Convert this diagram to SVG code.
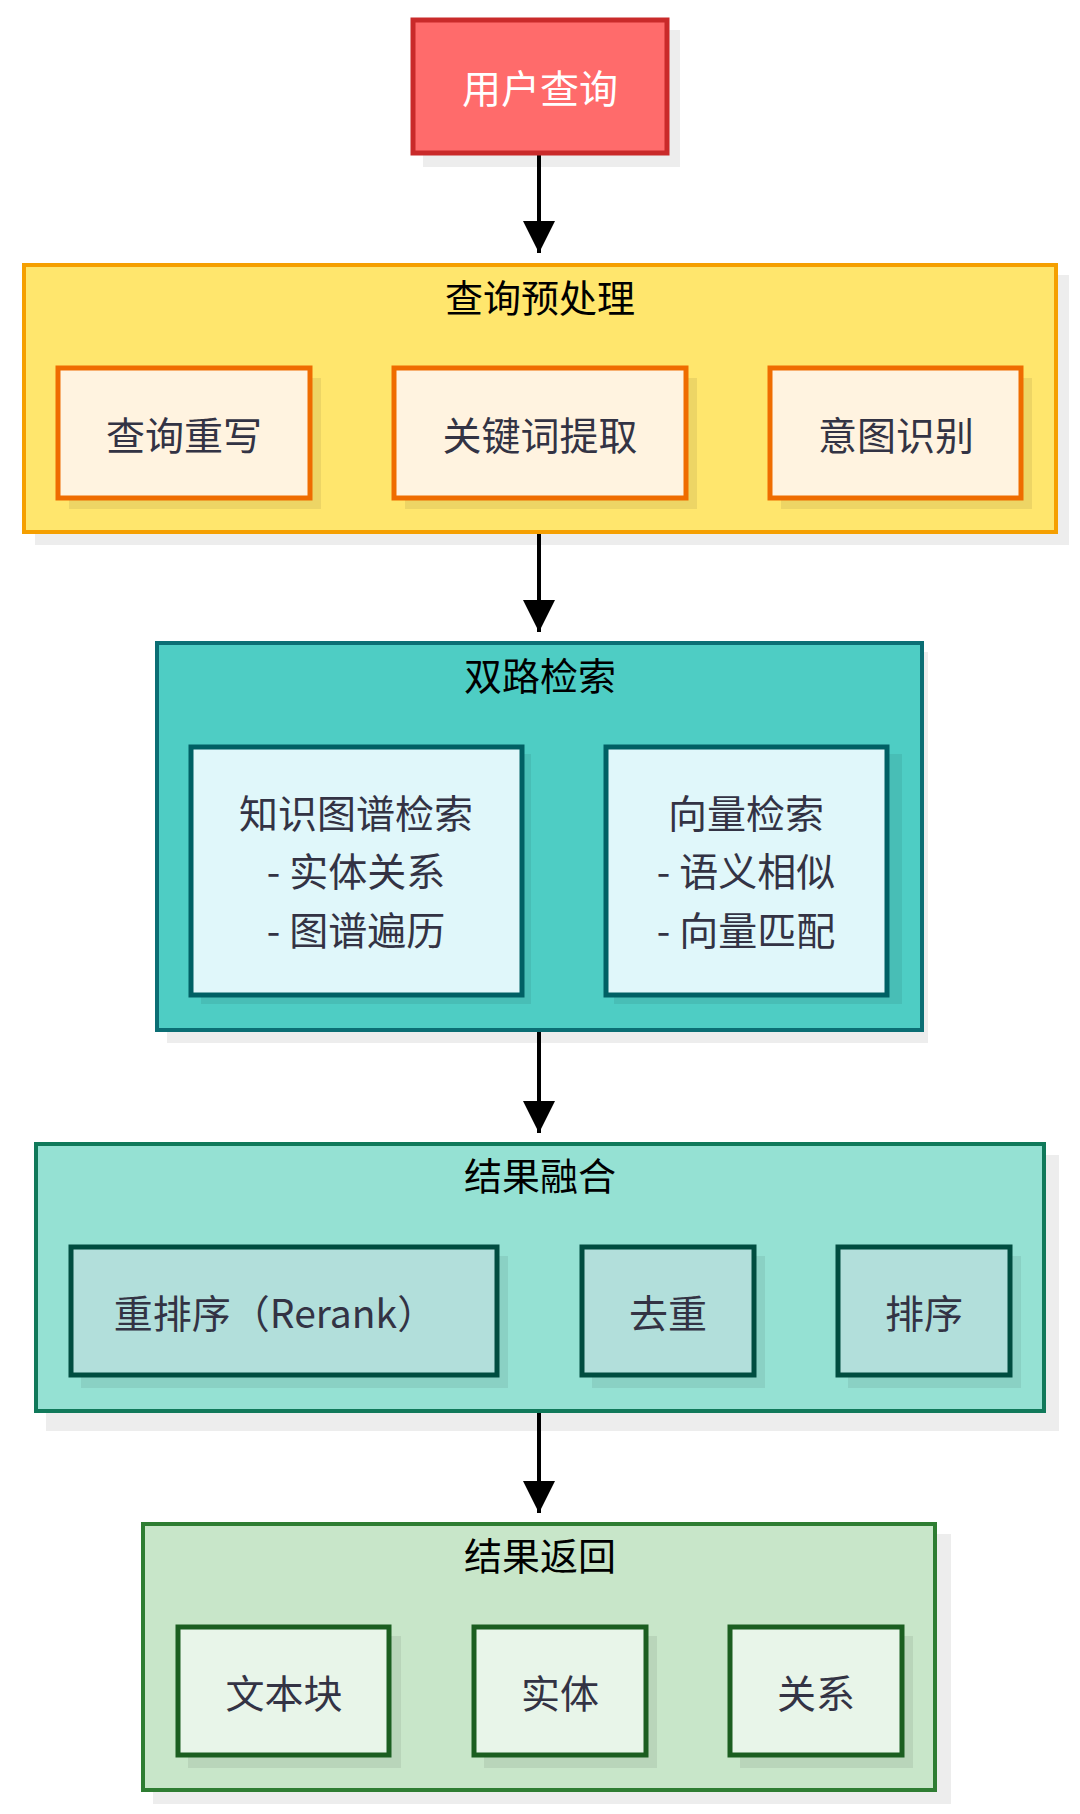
<svg xmlns="http://www.w3.org/2000/svg" width="1080" height="1814" viewBox="0 0 1080 1814">
<defs>
<marker id="ah" viewBox="0 0 10 10" refX="10" refY="5" markerWidth="8" markerHeight="8" markerUnits="strokeWidth" orient="auto"><path d="M0,0 L10,5 L0,10 z" fill="#000"/></marker>
<style>
text{font-family:"Noto Sans CJK SC","Noto Sans",sans-serif;text-anchor:middle;dominant-baseline:central}
.sh{fill:#000;opacity:0.07}
.t{font-size:38px;fill:#000}
.n{font-size:39px;fill:#333344}
.e{stroke:#000;stroke-width:4;fill:none;marker-end:url(#ah)}
</style>
</defs>
<rect width="1080" height="1814" fill="#fff"/>
<g id="connectors">
<line class="e" x1="539" y1="155" x2="539" y2="253"/>
<line class="e" x1="539" y1="533" x2="539" y2="632"/>
<line class="e" x1="539" y1="1031" x2="539" y2="1133"/>
<line class="e" x1="539" y1="1411" x2="539" y2="1513"/>
</g>
<g id="user">
<rect class="sh" x="423" y="30" width="257" height="137"/>
<rect x="413" y="20" width="254" height="133" fill="#ff6b6b" stroke="#c92a2a" stroke-width="5"/>
<text x="540" y="86" font-size="39" fill="#fff">用户查询</text>
</g>
<g id="pre">
<rect class="sh" x="35" y="275" width="1034" height="270"/>
<rect x="24" y="265" width="1032" height="267" fill="#ffe66d" stroke="#f59f00" stroke-width="4"/>
<text class="t" x="540" y="295">查询预处理</text>
<g id="rewrite"><rect class="sh" x="69" y="378" width="252" height="131"/><rect x="58" y="368" width="252" height="130" fill="#fff3e0" stroke="#ef6c00" stroke-width="5"/><text class="n" x="184" y="433">查询重写</text></g>
<g id="kw"><rect class="sh" x="405" y="378" width="292" height="131"/><rect x="394" y="368" width="292" height="130" fill="#fff3e0" stroke="#ef6c00" stroke-width="5"/><text class="n" x="540" y="433">关键词提取</text></g>
<g id="intent"><rect class="sh" x="781" y="378" width="251" height="131"/><rect x="770" y="368" width="251" height="130" fill="#fff3e0" stroke="#ef6c00" stroke-width="5"/><text class="n" x="896" y="433">意图识别</text></g>
</g>
<g id="retrieve">
<rect class="sh" x="167" y="652" width="761" height="391"/>
<rect x="157" y="643" width="765" height="387" fill="#4ecdc4" stroke="#0b6e74" stroke-width="4"/>
<text class="t" x="540" y="673">双路检索</text>
<g id="kg"><rect class="sh" x="201" y="754" width="330" height="250"/><rect x="191" y="747" width="331" height="248" fill="#e0f7fa" stroke="#006064" stroke-width="5"/>
<text class="n" x="356" y="811">知识图谱检索</text><text class="n" x="356" y="869">- 实体关系</text><text class="n" x="356" y="928">- 图谱遍历</text></g>
<g id="vec"><rect class="sh" x="614" y="754" width="288" height="250"/><rect x="606" y="747" width="281" height="248" fill="#e0f7fa" stroke="#006064" stroke-width="5"/>
<text class="n" x="746" y="811">向量检索</text><text class="n" x="746" y="869">- 语义相似</text><text class="n" x="746" y="928">- 向量匹配</text></g>
</g>
<g id="fuse">
<rect class="sh" x="46" y="1155" width="1013" height="276"/>
<rect x="36" y="1144" width="1008" height="267" fill="#95e1d3" stroke="#10795a" stroke-width="4"/>
<text class="t" x="540" y="1173">结果融合</text>
<g id="rerank"><rect class="sh" x="81" y="1256" width="427" height="132"/><rect x="71" y="1247" width="426" height="128" fill="#b2dfdb" stroke="#004d40" stroke-width="5"/><text class="n" x="275" y="1311">重排序（Rerank）</text></g>
<g id="dedup"><rect class="sh" x="592" y="1256" width="173" height="132"/><rect x="582" y="1247" width="172" height="128" fill="#b2dfdb" stroke="#004d40" stroke-width="5"/><text class="n" x="668" y="1311">去重</text></g>
<g id="sort"><rect class="sh" x="848" y="1256" width="173" height="132"/><rect x="838" y="1247" width="172" height="128" fill="#b2dfdb" stroke="#004d40" stroke-width="5"/><text class="n" x="924" y="1311">排序</text></g>
</g>
<g id="ret">
<rect class="sh" x="153" y="1534" width="798" height="270"/>
<rect x="143" y="1524" width="792" height="266" fill="#c8e6c9" stroke="#2e7d32" stroke-width="4"/>
<text class="t" x="540" y="1553">结果返回</text>
<g id="chunk"><rect class="sh" x="188" y="1636" width="213" height="132"/><rect x="178" y="1627" width="211" height="128" fill="#e8f5e9" stroke="#1b5e20" stroke-width="5"/><text class="n" x="284" y="1691">文本块</text></g>
<g id="entity"><rect class="sh" x="484" y="1636" width="173" height="132"/><rect x="474" y="1627" width="172" height="128" fill="#e8f5e9" stroke="#1b5e20" stroke-width="5"/><text class="n" x="560" y="1691">实体</text></g>
<g id="rel"><rect class="sh" x="740" y="1636" width="173" height="132"/><rect x="730" y="1627" width="172" height="128" fill="#e8f5e9" stroke="#1b5e20" stroke-width="5"/><text class="n" x="816" y="1691">关系</text></g>
</g>
</svg>
